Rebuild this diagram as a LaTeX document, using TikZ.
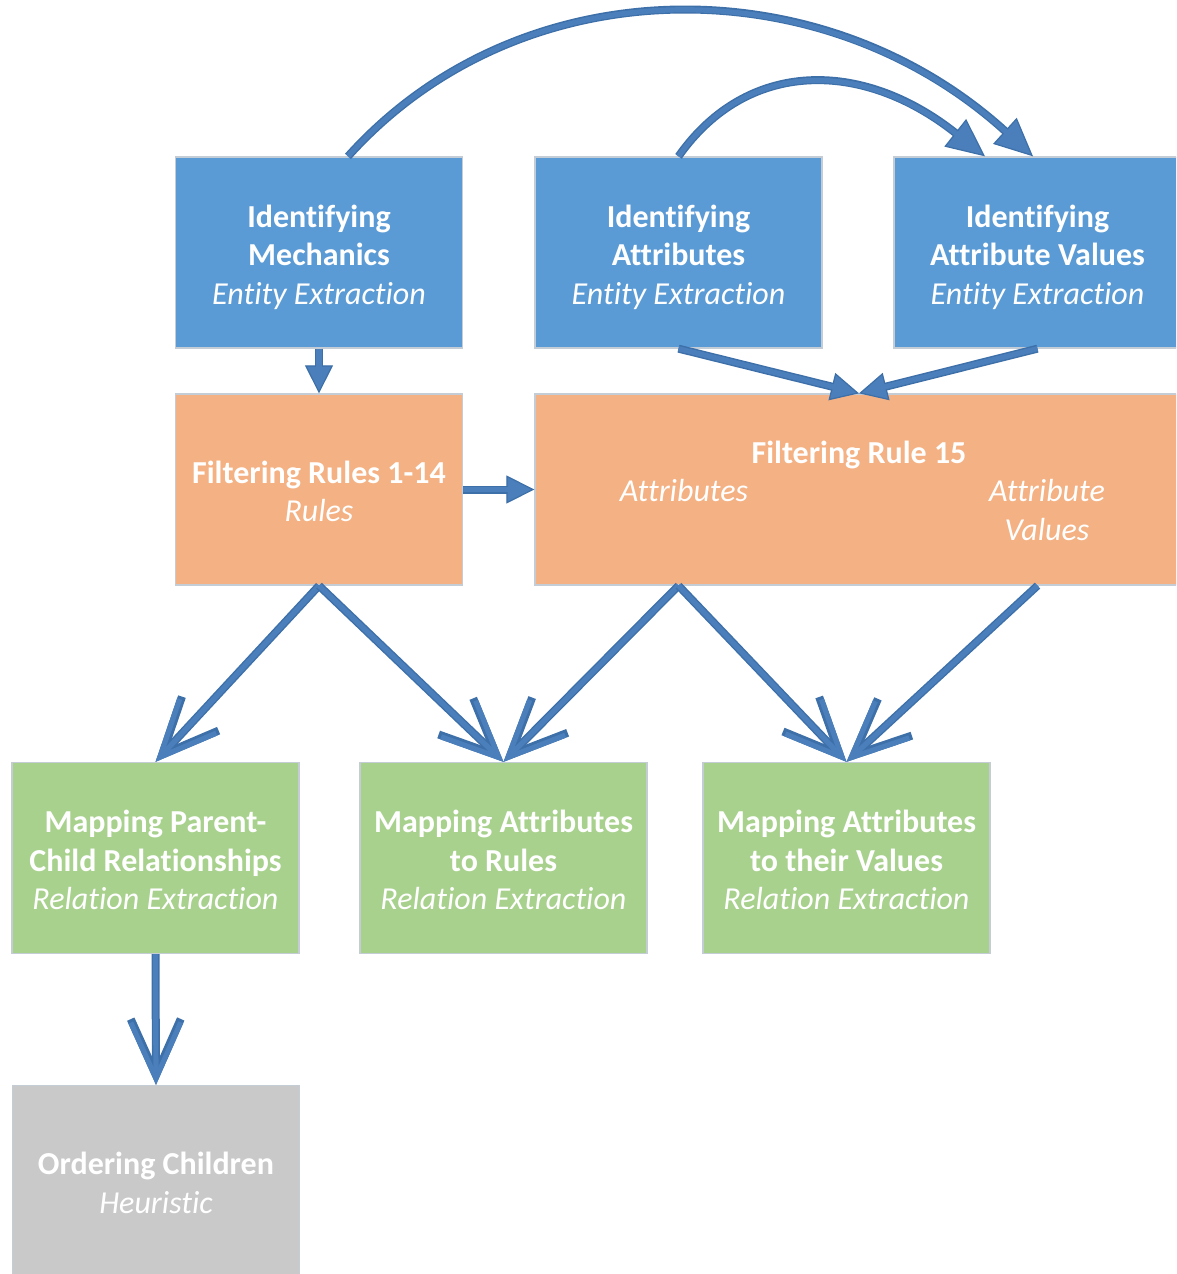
\documentclass[tikz,border=0pt]{standalone}
\usepackage{fontspec}
\setmainfont{Carlito}[Ligatures={TeX,NoCommon}]
\usetikzlibrary{arrows.meta}
\definecolor{boxblue}{HTML}{5B9BD5}
\definecolor{boxorange}{HTML}{F4B183}
\definecolor{boxgreen}{HTML}{A9D18E}
\definecolor{boxgray}{HTML}{C9C9C9}
\definecolor{boxline}{RGB}{196,204,214}
\definecolor{arrowedge}{HTML}{3D6FA8}
\definecolor{arrowfill}{HTML}{4A7FBC}
% struts that fix the height of the first and the depth of the last text line
\newcommand\firstline{\rule{0pt}{34pt}}
\newcommand\lastline{\rule[-8pt]{0pt}{8pt}}
\begin{document}
\begin{tikzpicture}[x=1pt,y=-1pt,
  stage/.style={draw=boxline, line width=1.3pt, minimum width=287pt, minimum height=191pt,
    inner sep=0pt, text=white, align=center, font=\fontsize{32}{38.5}\selectfont},
  lbl/.style={inner sep=0pt, text=white, align=center, font=\fontsize{32}{38.5}\selectfont},
  edgeline/.style={line width=8pt, draw=arrowedge},
  coreline/.style={line width=5.2pt, draw=arrowfill},
  solidhead/.style={-{Triangle[length=28pt,width=28pt,fill=arrowfill,line width=1.2pt]}},
  bighead/.style={-{Triangle[length=38pt,width=35pt,fill=arrowfill,line width=1.2pt]}},
  openhead/.style={-{Straight Barb[length=56pt,width=50pt]}}]
\useasboundingbox (0,0) rectangle (1176,1274);
\clip (0,0) rectangle (1176,1274);

% entity extraction stages
\node[stage, fill=boxblue] (b1) at (319,252.5) {\firstline\textbf{Identifying}\\\textbf{Mechanics}\\\textit{Entity Extraction}\lastline};
\node[stage, fill=boxblue] (b2) at (678.5,252.5) {\firstline\textbf{Identifying}\\\textbf{Attributes}\\\textit{Entity Extraction}\lastline};
\node[stage, fill=boxblue] (b3) at (1037.5,252.5) {\firstline\textbf{Identifying}\\\textbf{Attribute Values}\\\textit{Entity Extraction}\lastline};

% filtering stages
\node[stage, fill=boxorange] (o1) at (319,489.5) {\firstline\textbf{Filtering Rules 1-14}\\\textit{Rules}\lastline};
\node[stage, fill=boxorange, minimum width=648pt] (o2) at (859,489.5) {};
\node[lbl] (o2t) at ([yshift=34.5pt]o2.center) {\textbf{Filtering Rule 15}};
\node[lbl] (o2a) at ([xshift=-175pt,yshift=-1pt]o2.center) {\textit{Attributes}};
\node[lbl] (o2v) at ([xshift=188pt,yshift=-20.5pt]o2.center) {\textit{Attribute}\\\textit{Values}};

% relation extraction stages
\node[stage, fill=boxgreen] (g1) at (155.5,858) {\firstline\textbf{Mapping Parent-}\\\textbf{Child Relationships}\\\textit{Relation Extraction}\lastline};
\node[stage, fill=boxgreen] (g2) at (503.5,858) {\firstline\textbf{Mapping Attributes}\\\textbf{to Rules}\\\textit{Relation Extraction}\lastline};
\node[stage, fill=boxgreen] (g3) at (846.5,858) {\firstline\textbf{Mapping Attributes}\\\textbf{to their Values}\\\textit{Relation Extraction}\lastline};

% heuristic stage
\node[stage, fill=boxgray] (gr) at (156,1181) {\firstline\textbf{Ordering Children}\\\textit{Heuristic}\lastline};

% curved connectors over the top
\draw[edgeline, bighead] ([xshift=29pt]b1.north) .. controls (520,-35) and (822,-35) .. ([xshift=-4.5pt]b3.north);
\draw[coreline, shorten >=35pt] ([xshift=29pt]b1.north) .. controls (520,-35) and (822,-35) .. ([xshift=-4.5pt]b3.north);
\draw[edgeline, bighead] (b2.north) .. controls (747,59) and (862,59) .. ([xshift=-52.5pt]b3.north);
\draw[coreline, shorten >=35pt] (b2.north) .. controls (747,59) and (862,59) .. ([xshift=-52.5pt]b3.north);

% short connectors with solid heads
\foreach \a/\b in {b1.south/o1.north, o1.east/o2.west, b2.south/o2.north, b3.south/o2.north} {
  \draw[edgeline, solidhead] (\a) -- (\b);
  \draw[coreline, shorten >=25pt] (\a) -- (\b);
}

% connectors with open heads
\coordinate (o2l) at (b2 |- o2.south);
\coordinate (o2r) at (b3 |- o2.south);
\foreach \a/\b in {o1.south/g1.north, o1.south/g2.north, o2l/g2.north, o2l/g3.north, o2r/g3.north, g1.south/gr.north} {
  \draw[edgeline, openhead] (\a) -- (\b);
  \draw[coreline, openhead] (\a) -- (\b);
}
\end{tikzpicture}
\end{document}
